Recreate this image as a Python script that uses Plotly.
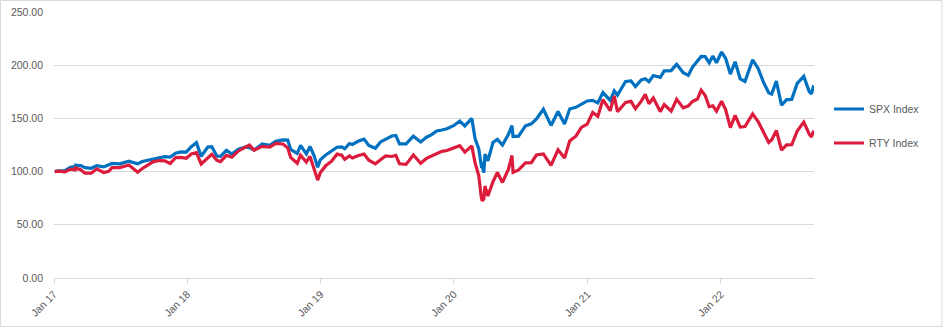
import plotly.graph_objects as go

# Index levels rebased to 100 at the start of 2017
dates = [
    "2017-01-03", "2017-01-13", "2017-01-31", "2017-02-15", "2017-02-28", "2017-03-01",
    "2017-03-15", "2017-03-27", "2017-04-13", "2017-04-28", "2017-05-17", "2017-05-31",
    "2017-06-09", "2017-06-30", "2017-07-25", "2017-08-18", "2017-08-31", "2017-09-15",
    "2017-09-29", "2017-10-16", "2017-10-31", "2017-11-15", "2017-11-30", "2017-12-15",
    "2017-12-29", "2018-01-12", "2018-01-26", "2018-02-08", "2018-02-26", "2018-03-09",
    "2018-03-23", "2018-04-02", "2018-04-18", "2018-05-03", "2018-05-21", "2018-06-08",
    "2018-06-20", "2018-07-03", "2018-07-25", "2018-08-15", "2018-08-31", "2018-09-20",
    "2018-10-03", "2018-10-11", "2018-10-29", "2018-11-07", "2018-11-23", "2018-12-03",
    "2018-12-14", "2018-12-24", "2018-12-31", "2019-01-15", "2019-01-31", "2019-02-15",
    "2019-02-28", "2019-03-08", "2019-03-21", "2019-03-29", "2019-04-15", "2019-04-30",
    "2019-05-13", "2019-05-31", "2019-06-14", "2019-06-28", "2019-07-15", "2019-07-26",
    "2019-08-05", "2019-08-23", "2019-09-12", "2019-10-02", "2019-10-18", "2019-10-31",
    "2019-11-15", "2019-11-29", "2019-12-13", "2019-12-31", "2020-01-17", "2020-01-31",
    "2020-02-19", "2020-02-28", "2020-03-09", "2020-03-16", "2020-03-18", "2020-03-23",
    "2020-03-26", "2020-04-03", "2020-04-17", "2020-04-29", "2020-05-13", "2020-05-29",
    "2020-06-08", "2020-06-11", "2020-06-26", "2020-07-15", "2020-07-31", "2020-08-14",
    "2020-09-02", "2020-09-23", "2020-10-12", "2020-10-30", "2020-11-13", "2020-11-30",
    "2020-12-15", "2020-12-31", "2021-01-15", "2021-01-29", "2021-02-12", "2021-03-04",
    "2021-03-15", "2021-03-24", "2021-04-15", "2021-04-30", "2021-05-12", "2021-05-28",
    "2021-06-08", "2021-06-18", "2021-06-30", "2021-07-19", "2021-07-30", "2021-08-18",
    "2021-08-31", "2021-09-02", "2021-09-20", "2021-10-04", "2021-10-15", "2021-10-29",
    "2021-11-08", "2021-11-19", "2021-11-30", "2021-12-10", "2021-12-20", "2022-01-03",
    "2022-01-14", "2022-01-27", "2022-02-09", "2022-02-23", "2022-03-08", "2022-03-29",
    "2022-04-13", "2022-04-29", "2022-05-12", "2022-05-20", "2022-06-02", "2022-06-16",
    "2022-06-30", "2022-07-14", "2022-07-29", "2022-08-16", "2022-08-31", "2022-09-06",
    "2022-09-12",
]

spx = [
    100.0, 100.7, 100.9, 104.0, 104.7, 106.1,
    105.6, 103.7, 103.1, 105.6, 104.4, 106.8,
    107.7, 107.3, 109.7, 107.4, 109.5, 110.7,
    111.6, 113.3, 114.1, 113.6, 117.3, 118.5,
    118.4, 123.4, 127.2, 114.3, 123.1, 123.4,
    114.6, 114.4, 120.0, 116.5, 121.0, 123.1,
    122.6, 120.2, 126.1, 124.8, 128.5, 129.8,
    129.6, 120.8, 117.0, 124.6, 116.6, 123.6,
    115.1, 104.1, 111.0, 115.6, 119.8, 122.9,
    123.3, 121.5, 126.4, 125.5, 128.7, 130.5,
    124.5, 121.9, 127.9, 130.3, 133.5, 134.0,
    126.0, 126.1, 133.3, 127.9, 132.3, 134.5,
    138.2, 139.1, 140.3, 143.1, 147.5, 142.9,
    150.0, 130.8, 121.6, 105.7, 106.2, 99.1,
    116.5, 110.2, 127.3, 130.2, 124.9, 134.8,
    143.2, 133.0, 133.3, 142.9, 144.9, 149.4,
    158.6, 143.4, 156.5, 144.8, 158.8, 160.4,
    163.6, 166.4, 166.9, 164.5, 174.3, 166.9,
    175.8, 171.9, 184.7, 185.2, 180.0, 186.2,
    187.2, 184.5, 190.3, 188.6, 194.7, 194.9,
    200.3, 200.9, 193.0, 190.5, 198.0, 204.0,
    208.2, 208.1, 202.3, 208.7, 202.3, 212.4,
    206.5, 191.6, 203.2, 187.1, 184.7, 205.1,
    196.9, 183.0, 174.1, 172.8, 185.0, 162.4,
    167.7, 167.9, 182.9, 189.5, 175.2, 173.1,
    181.0,
]

rty = [
    100.0, 100.4, 99.7, 102.3, 101.6, 103.5,
    101.8, 98.5, 98.5, 102.6, 99.2, 100.3,
    103.7, 103.7, 106.2, 99.4, 102.9, 106.2,
    109.2, 110.4, 110.1, 107.6, 113.1, 113.3,
    112.5, 116.5, 117.8, 107.2, 113.1, 116.3,
    110.6, 109.3, 115.3, 113.5, 119.4, 122.4,
    124.9, 120.1, 123.7, 123.0, 126.5, 126.0,
    122.3, 113.3, 107.8, 115.3, 109.0, 114.2,
    103.3, 92.0, 98.8, 105.5, 109.8, 116.4,
    115.4, 111.5, 114.7, 112.8, 115.1, 116.5,
    110.7, 107.3, 111.2, 114.7, 114.2, 115.3,
    107.4, 106.8, 115.6, 107.8, 112.4, 114.4,
    117.0, 119.0, 119.8, 122.2, 124.4, 118.2,
    124.2, 108.1, 96.2, 75.9, 72.6, 74.2,
    86.4, 77.0, 90.5, 99.1, 89.8, 102.1,
    115.1, 99.3, 101.6, 108.2, 108.4, 115.6,
    116.6, 105.9, 120.5, 112.7, 128.7, 133.3,
    141.6, 144.6, 155.5, 151.9, 167.6, 157.2,
    171.2, 156.3, 165.0, 166.0, 159.1, 166.2,
    172.6, 163.8, 169.2, 156.4, 163.0, 156.9,
    166.5, 167.9, 159.9, 161.8, 165.9, 168.2,
    176.5, 171.6, 161.0, 161.9, 156.9, 166.1,
    158.3, 141.4, 152.8, 141.8, 142.3, 154.2,
    147.1, 136.5, 127.4, 129.8, 138.6, 120.3,
    125.1, 125.2, 138.1, 146.5, 135.1, 132.5,
    138.5,
]

series_names = ["SPX Index", "RTY Index"]
series_colors = ["#0070C0", "#DC1C3C"]

year_ticks = ["2017-01-01", "2018-01-01", "2019-01-01", "2020-01-01", "2021-01-01", "2022-01-01"]
year_labels = ["Jan 17", "Jan 18", "Jan 19", "Jan 20", "Jan 21", "Jan 22"]
y_ticks = [0, 50, 100, 150, 200, 250]

W, H = 945, 328
ML, MR, MT, MB = 54, 131, 12, 50
PW, PH = W - ML - MR, H - MT - MB

FONT = "Liberation Sans"
TXT = "#595959"
GRID = "#D9D9D9"

fig = go.Figure()
for i, (name, vals) in enumerate(zip(series_names, [spx, rty])):
    fig.add_trace(go.Scatter(
        x=dates, y=vals, name=name, mode="lines",
        line=dict(color=series_colors[i], width=3.2),
        showlegend=True,
        legend="legend" if i == 0 else "legend2",
    ))


def px_to_paper_y(py):
    return (H - MB - py) / PH


def px_to_paper_x(px):
    return (px - ML) / PW


legend_common = dict(
    xanchor="left", yanchor="middle",
    font=dict(family=FONT, size=10.5, color=TXT),
    bgcolor="rgba(0,0,0,0)", itemwidth=30, visible=True,
)

fig.update_layout(
    width=W, height=H,
    margin=dict(l=ML, r=MR, t=MT, b=MB, autoexpand=False),
    paper_bgcolor="white", plot_bgcolor="white",
    font=dict(family=FONT, size=10.5, color=TXT),
    showlegend=True,
    legend=dict(x=px_to_paper_x(829), y=px_to_paper_y(109), **legend_common),
    legend2=dict(x=px_to_paper_x(829), y=px_to_paper_y(143), **legend_common),
    xaxis=dict(
        type="date",
        automargin=False,
        range=["2017-01-01", "2022-09-13"],
        tickvals=year_ticks, ticktext=year_labels,
        tickangle=-45,
        showgrid=False, zeroline=False,
        showline=True, linecolor=GRID, linewidth=1,
        ticks="outside", ticklen=5, tickcolor=GRID, tickwidth=1,
        tickfont=dict(family=FONT, size=10.5, color=TXT),
    ),
    yaxis=dict(
        automargin=False,
        range=[0, 250],
        tickvals=y_ticks, tickformat=".2f",
        showgrid=True, gridcolor=GRID, gridwidth=1,
        zeroline=False, showline=False, ticks="",
        ticklabelstandoff=10,
        tickfont=dict(family=FONT, size=10.5, color=TXT),
    ),
    shapes=[dict(
        type="rect", xref="paper", yref="paper", layer="above",
        x0=px_to_paper_x(0.5), x1=px_to_paper_x(942),
        y0=px_to_paper_y(326.5), y1=px_to_paper_y(0.5),
        line=dict(color=GRID, width=1), fillcolor="rgba(0,0,0,0)",
    )],
)

fig.write_html("out.html")
